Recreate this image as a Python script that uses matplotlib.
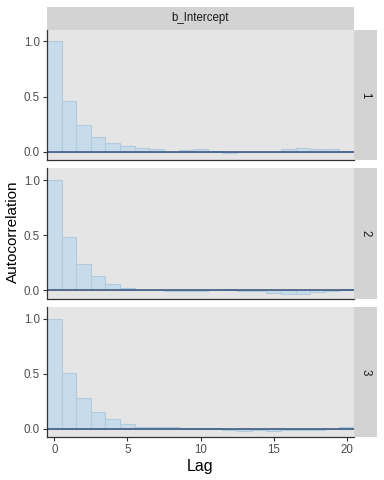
import matplotlib
matplotlib.use("Agg")
import matplotlib.pyplot as plt
import numpy as np

plt.rcParams['font.family'] = ['Liberation Sans', 'DejaVu Sans']

# autocorrelation by lag, one list per chain
lags = list(range(21))
chain_labels = ["1", "2", "3"]
param_label = "b_Intercept"
acf_chain1 = [1.0, 0.46, 0.24, 0.136, 0.075, 0.051, 0.033, 0.021, 0.0, 0.012, 0.021,
              0.006, -0.009, -0.006, -0.006, 0.0, 0.021, 0.03, 0.021, 0.021, 0.003]
acf_chain2 = [1.0, 0.486, 0.242, 0.133, 0.06, 0.018, 0.003, 0.0, -0.006, -0.009, -0.006,
              0.006, 0.009, -0.009, -0.009, -0.021, -0.033, -0.03, -0.018, -0.003, 0.009]
acf_chain3 = [1.0, 0.507, 0.278, 0.148, 0.088, 0.042, 0.018, 0.015, 0.015, 0.006, 0.006,
              0.003, -0.012, -0.021, -0.012, -0.018, -0.012, -0.012, -0.015, -0.003, 0.015]
acf_all = [acf_chain1, acf_chain2, acf_chain3]
x_ticks = [0, 5, 10, 15, 20]
y_ticks = [0.0, 0.5, 1.0]

W, H = 384, 480
fig = plt.figure(figsize=(W / 100, H / 100), dpi=100)

def px_axes(x0, y0, x1, y1):
    # pixel box (top-left origin) -> figure axes
    return fig.add_axes([x0 / W, 1 - y1 / H, (x1 - x0) / W, (y1 - y0) / H])

panel_x0, panel_x1, strip_x1 = 47.0, 354.0, 376.7
panels_y = [(29.5, 160.0), (168.3, 298.5), (307.0, 437.0)]
ylim = (-0.075, 1.107)

bar_fill = '#c7dbea'
bar_edge = '#b3cbde'
line_col = '#34507a'
text_col = '#4d4d4d'

for i, (y0, y1) in enumerate(panels_y):
    ax = px_axes(panel_x0, y0, panel_x1, y1)
    ax.set_facecolor('#e5e5e5')
    ax.bar(lags, acf_all[i], width=1.0, color=bar_fill, edgecolor=bar_edge, linewidth=0.8)
    ax.axhline(0, color=line_col, linewidth=1.1)
    ax.set_xlim(-0.5, 20.5)
    ax.set_ylim(*ylim)
    for s in ['top', 'right']:
        ax.spines[s].set_visible(False)
    for s in ['left', 'bottom']:
        ax.spines[s].set_color('#333333')
        ax.spines[s].set_linewidth(0.9)
    ax.set_yticks(y_ticks)
    ax.set_yticklabels([f"{v:.1f}" for v in y_ticks])
    ax.tick_params(axis='y', length=3, width=0.8, color='#333333', labelsize=8.3,
                   labelcolor=text_col, pad=2)
    if i == 2:
        ax.set_xticks(x_ticks)
        ax.tick_params(axis='x', length=3, width=0.8, color='#333333', labelsize=8.3,
                       labelcolor=text_col, pad=2)
        ax.set_xlabel("Lag", fontsize=11.5, labelpad=2)
    else:
        ax.set_xticks([])

    # right strip
    sax = px_axes(panel_x1, y0, strip_x1, y1)
    sax.set_facecolor('#d3d3d3')
    sax.set_xticks([])
    sax.set_yticks([])
    for s in sax.spines.values():
        s.set_visible(False)
    sax.text(0.5, 0.5, chain_labels[i], rotation=-90, ha='center', va='center',
             fontsize=8.3, color='#1a1a1a', transform=sax.transAxes)

# top strip
tax = px_axes(panel_x0, 7.3, panel_x1, 29.5)
tax.set_facecolor('#d3d3d3')
tax.set_xticks([])
tax.set_yticks([])
for s in tax.spines.values():
    s.set_visible(False)
tax.text(0.5, 0.5, param_label, ha='center', va='center', fontsize=8.3,
         color='#1a1a1a', transform=tax.transAxes)

fig.text(13 / W, 1 - 232 / H, "Autocorrelation", rotation=90, ha='center', va='center',
         fontsize=11)

fig.savefig("out.png", dpi=100)
